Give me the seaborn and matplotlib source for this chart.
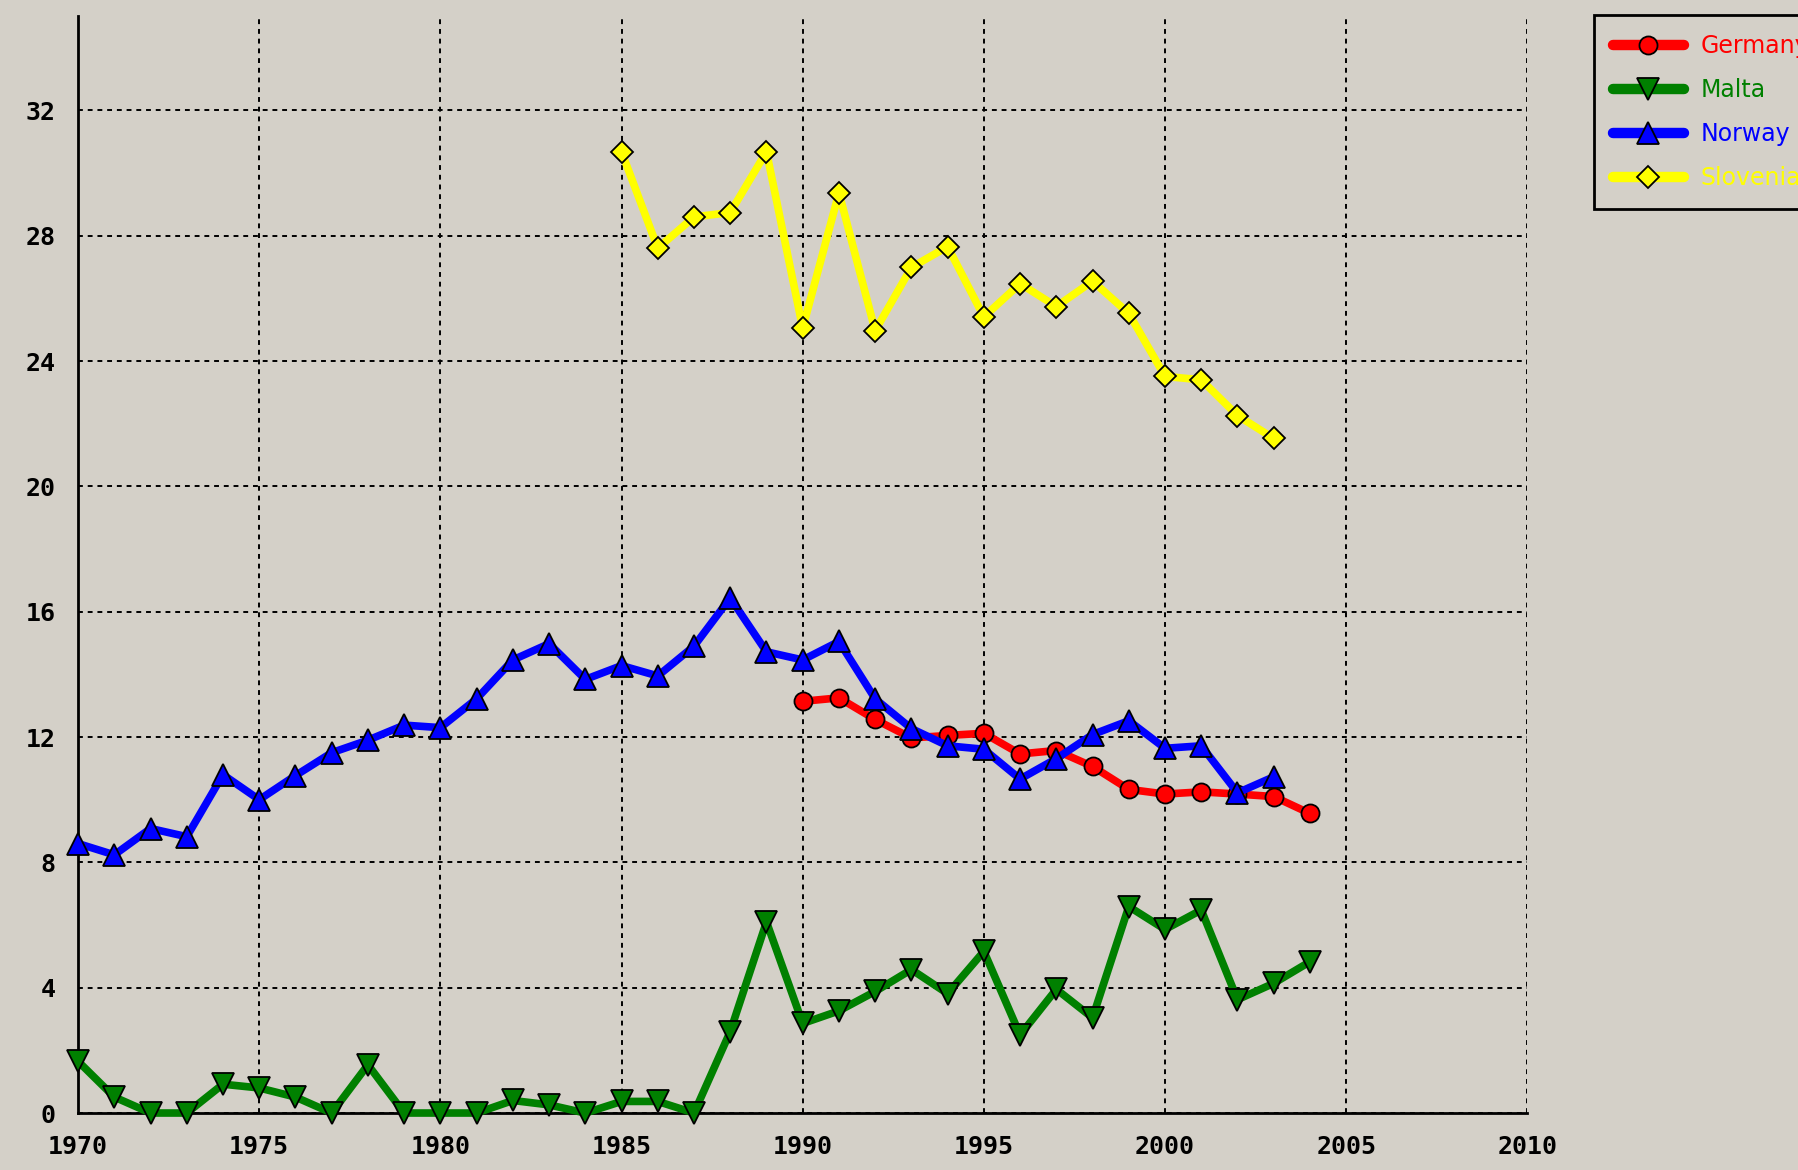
import matplotlib
matplotlib.use("Agg")
import matplotlib.pyplot as plt
import seaborn as sns
import pandas as pd
from matplotlib.ticker import MultipleLocator

germany_years = list(range(1990, 2005))
germany_vals = [13.14, 13.25, 12.56, 11.97, 12.05, 12.12, 11.46, 11.57, 11.06, 10.33,
                10.18, 10.25, 10.18, 10.10, 9.56]

malta_years = list(range(1970, 2005))
malta_vals = [1.65, 0.51, 0.0, 0.0, 0.92, 0.80, 0.51, 0.0, 1.54, 0.0,
              0.0, 0.0, 0.40, 0.26, 0.0, 0.37, 0.37, 0.0, 2.60, 6.10,
              2.86, 3.26, 3.88, 4.58, 3.81, 5.16, 2.49, 3.95, 3.04, 6.59,
              5.86, 6.48, 3.62, 4.14, 4.83]

norway_years = list(range(1970, 2004))
norway_vals = [8.60, 8.24, 9.08, 8.82, 10.80, 10.00, 10.77, 11.50, 11.90, 12.38,
               12.30, 13.22, 14.46, 14.98, 13.84, 14.28, 13.95, 14.90, 16.44, 14.72,
               14.46, 15.05, 13.22, 12.27, 11.72, 11.61, 10.66, 11.31, 12.08, 12.52,
               11.64, 11.72, 10.22, 10.73]

slovenia_years = list(range(1985, 2004))
slovenia_vals = [30.68, 27.60, 28.60, 28.74, 30.68, 25.05, 29.37, 24.97, 26.99, 27.65,
                 25.41, 26.47, 25.74, 26.55, 25.52, 23.51, 23.40, 22.26, 21.53]

series = [
    ("Germany", germany_years, germany_vals, "#FF0000", "o", 13),
    ("Malta", malta_years, malta_vals, "#008000", "v", 16),
    ("Norway", norway_years, norway_vals, "#0000FF", "^", 16),
    ("Slovenia", slovenia_years, slovenia_vals, "#FFFF00", "D", 11),
]

bg = "#D4D0C8"
sns.set_style("white")
plt.rcParams["font.family"] = ["DejaVu Sans Mono", "DejaVu Sans"]

fig = plt.figure(figsize=(17.99, 11.70), dpi=100, facecolor=bg)
ax = fig.add_axes([0.0434, 0.0487, 0.8056, 0.9373])
ax.set_facecolor(bg)

for name, yrs, vals, col, mk, ms in series:
    df = pd.DataFrame({"year": yrs, "value": vals})
    sns.lineplot(data=df, x="year", y="value", ax=ax, color=col, linewidth=5.5,
                 marker=mk, markersize=ms, markeredgecolor="black",
                 markeredgewidth=1.3, label=name, zorder=3, clip_on=False)

ax.set_xlim(1970, 2010)
ax.set_ylim(0, 35)
ax.xaxis.set_major_locator(MultipleLocator(5))
ax.xaxis.set_minor_locator(MultipleLocator(1))
ax.yaxis.set_major_locator(MultipleLocator(4))
ax.yaxis.set_minor_locator(MultipleLocator(0.8))
ax.set_xlabel("")
ax.set_ylabel("")

ax.grid(True, which="major", color="black", linestyle=(0, (2.5, 2.5)), linewidth=1.4, zorder=1)
for s in ["top", "right"]:
    ax.spines[s].set_visible(False)
for s in ["left", "bottom"]:
    ax.spines[s].set_color("black")
    ax.spines[s].set_linewidth(2.0)
    ax.spines[s].set_zorder(2)

ax.tick_params(which="major", direction="out", length=12, width=1.6, color="black",
               labelsize=18, labelcolor="black", pad=4)
ax.tick_params(which="minor", direction="out", length=7, width=1.6, color="black")
for lab in ax.get_xticklabels() + ax.get_yticklabels():
    lab.set_fontweight("bold")

leg = ax.legend(loc="upper left", bbox_to_anchor=(0.886, 0.987),
                bbox_transform=fig.transFigure, borderaxespad=0,
                frameon=True, fancybox=False, facecolor=bg, edgecolor="black",
                framealpha=1, labelcolor="linecolor",
                handlelength=3.0, handletextpad=0.7, borderpad=0.8, labelspacing=0.85,
                prop={"family": ["DejaVu Sans"], "size": 17})
leg.get_frame().set_linewidth(2.0)
for ln in leg.get_lines():
    ln.set_linewidth(7.5)

fig.savefig("out.png", dpi=100, facecolor=bg)
